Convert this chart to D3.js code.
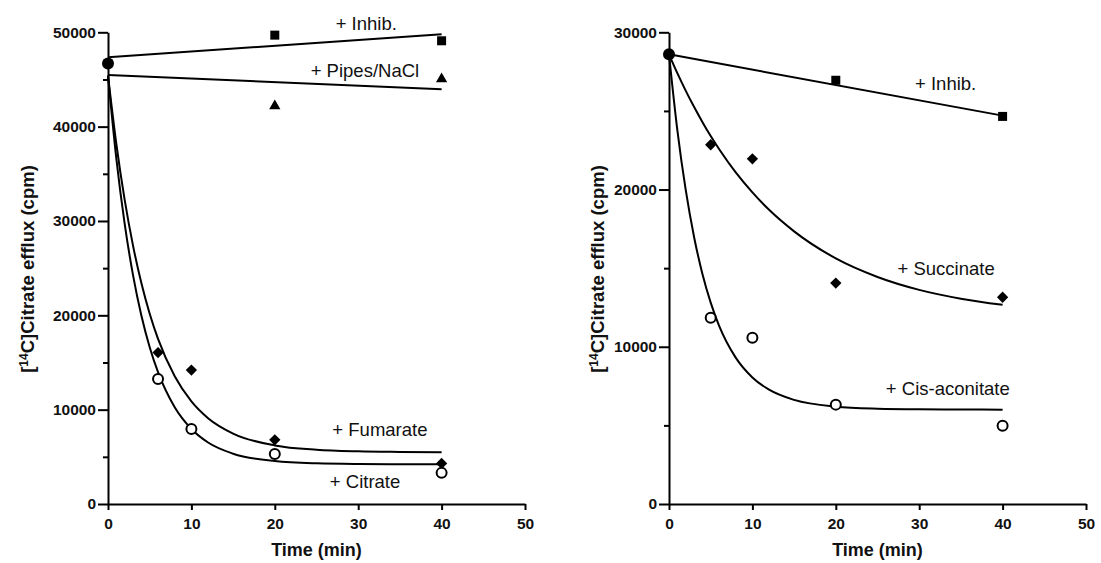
<!DOCTYPE html>
<html>
<head>
<meta charset="utf-8">
<script src="https://cdn.jsdelivr.net/npm/d3@7"></script>
<style>
  body { margin: 0; background: #fff; }
  svg { display: block; }
  text { font-family: "Liberation Sans", Arial, sans-serif; fill: #111; }
  .tick text { font-weight: bold; font-size: 15.5px; }
  .axis path, .axis line { stroke: #000; stroke-width: 2px; }
  .fit { fill: none; stroke: #000; stroke-width: 2px; }
  .note { font-size: 18.5px; }
  .atitle { font-weight: bold; font-size: 18px; }
</style>
</head>
<body>
<svg width="1101" height="563"></svg>
<script>
// time grid the fitted curves were read on
var fitT = [0, 1, 2, 3, 4, 5, 6, 8, 10, 12, 15, 20, 25, 30, 35, 40];

// ---- left panel ----
var leftControl = [46700];             // t = 0
var leftInhibT = [20, 40], leftInhibV = [49700, 49100];
var leftPipesT = [20, 40], leftPipesV = [42200, 45050];
var leftFumT = [6, 10, 20, 40], leftFumV = [16050, 14200, 6800, 4300];
var leftCitT = [6, 10, 20, 40], leftCitV = [13250, 7950, 5300, 3300];
var leftInhibFitT = [0, 40], leftInhibFitV = [47350, 49800];
var leftPipesFitT = [0, 40], leftPipesFitV = [45470, 43960];
var leftFumFit = [45400, 38160, 32240, 27390, 23420, 20170, 17500, 13540, 10880, 9100, 7470, 6210, 5750, 5580, 5520, 5490];
var leftCitFit = [45400, 36610, 29700, 24260, 19980, 16620, 13970, 10250, 7950, 6520, 5330, 4550, 4310, 4240, 4220, 4210];

// ---- right panel ----
var rightControl = [28600];
var rightInhibT = [20, 40], rightInhibV = [26950, 24650];
var rightSuccT = [5, 10, 20, 40], rightSuccV = [22850, 21950, 14050, 13150];
var rightCisT = [5, 10, 20, 40], rightCisV = [11850, 10580, 6320, 4980];
var rightInhibFitT = [0, 40], rightInhibFitV = [28600, 24700];
var rightSuccFit = [28600, 27400, 26290, 25260, 24300, 23400, 22580, 21090, 19820, 18710, 17340, 15620, 14440, 13620, 13060, 12670];
var rightCisFit = [28600, 23780, 19990, 17000, 14650, 12810, 11350, 9310, 8050, 7270, 6620, 6190, 6060, 6020, 6010, 6000];

// axis ticks
var xTicks = [0, 10, 20, 30, 40, 50];
var leftYTicks = [0, 10000, 20000, 30000, 40000, 50000];
var leftYMinor = [5000, 15000, 25000, 35000, 45000];
var rightYTicks = [0, 10000, 20000, 30000];
var rightYMinor = [5000, 15000, 25000];

// curve labels: text, t, value (baseline start)
var leftNotes = [["+ Inhib.", 27.3, 50250], ["+ Pipes/NaCl", 24.3, 45260], ["+ Fumarate", 26.9, 7210], ["+ Citrate", 26.6, 1700]];
var rightNotes = [["+ Inhib.", 29.5, 26340], ["+ Succinate", 27.4, 14570], ["+ Cis-aconitate", 26.0, 6930]];

var svg = d3.select("svg");

function zip(t, v) { return t.map(function (d, i) { return [d, v[i]]; }); }

function panel(opt) {
  var x = d3.scaleLinear().domain([0, 50]).range([opt.x0, opt.x0 + 417]);
  var y = d3.scaleLinear().domain([0, opt.ymax]).range([504, 32.3]);
  var g = svg.append("g");

  // minor y ticks
  g.append("g").attr("class", "axis")
    .attr("transform", "translate(" + opt.x0 + ",0)")
    .call(d3.axisLeft(y).tickValues(opt.minor).tickSize(5).tickFormat(""))
    .select(".domain").remove();
  g.append("g").attr("class", "axis")
    .attr("transform", "translate(" + opt.x0 + ",0)")
    .call(d3.axisLeft(y).tickValues(opt.yticks).tickSize(10).tickSizeOuter(0).tickPadding(2).tickFormat(d3.format("d")));
  g.append("g").attr("class", "axis")
    .attr("transform", "translate(0,504)")
    .call(d3.axisBottom(x).tickValues(xTicks).tickSize(6).tickSizeOuter(0).tickPadding(8));

  g.append("text").attr("class", "atitle")
    .attr("x", x(25)).attr("y", 556).attr("text-anchor", "middle").text("Time (min)");
  var yt = g.append("text").attr("class", "atitle")
    .attr("transform", "translate(" + opt.ytx + ",269) rotate(-90)")
    .attr("text-anchor", "middle").style("font-size", "18.5px");
  yt.append("tspan").text("[");
  yt.append("tspan").attr("dy", -6).style("font-size", "12px").text("14");
  yt.append("tspan").attr("dy", 6).text("C]Citrate efflux (cpm)");

  var line = d3.line().x(function (d) { return x(d[0]); }).y(function (d) { return y(d[1]); });
  var smooth = d3.line().curve(d3.curveMonotoneX).x(function (d) { return x(d[0]); }).y(function (d) { return y(d[1]); });
  opt.lines.forEach(function (l) { g.append("path").attr("class", "fit").attr("d", line(l)); });
  opt.curves.forEach(function (c) { g.append("path").attr("class", "fit").attr("d", smooth(c)); });

  opt.marks.forEach(function (m) {
    var sel = g.selectAll(null).data(m.pts).enter();
    if (m.shape === "open") {
      sel.append("circle").attr("cx", function (d) { return x(d[0]); }).attr("cy", function (d) { return y(d[1]); })
        .attr("r", 5).attr("fill", "#fff").attr("stroke", "#000").attr("stroke-width", 2);
    } else if (m.shape === "dot") {
      sel.append("circle").attr("cx", function (d) { return x(d[0]); }).attr("cy", function (d) { return y(d[1]); })
        .attr("r", 6).attr("fill", "#000");
    } else {
      var sym = d3.symbol().type(m.shape === "tri" ? d3.symbolTriangle : d3.symbolSquare)
        .size(m.shape === "tri" ? 55 : m.shape === "diamond" ? 64 : 81);
      sel.append("path").attr("d", sym).attr("fill", "#000")
        .attr("transform", function (d) {
          return "translate(" + x(d[0]) + "," + y(d[1]) + ")" + (m.shape === "diamond" ? " rotate(45)" : "");
        });
    }
  });

  opt.notes.forEach(function (n) {
    g.append("text").attr("class", "note").attr("x", x(n[1])).attr("y", y(n[2])).text(n[0]);
  });
}

panel({
  x0: 108, ymax: 50000, yticks: leftYTicks, minor: leftYMinor, ytx: 34,
  lines: [zip(leftInhibFitT, leftInhibFitV), zip(leftPipesFitT, leftPipesFitV)],
  curves: [zip(fitT, leftFumFit), zip(fitT, leftCitFit)],
  marks: [
    { shape: "square", pts: zip(leftInhibT, leftInhibV) },
    { shape: "tri", pts: zip(leftPipesT, leftPipesV) },
    { shape: "diamond", pts: zip(leftFumT, leftFumV) },
    { shape: "open", pts: zip(leftCitT, leftCitV) },
    { shape: "dot", pts: zip([0], leftControl) }
  ],
  notes: leftNotes
});

panel({
  x0: 669, ymax: 30000, yticks: rightYTicks, minor: rightYMinor, ytx: 604,
  lines: [zip(rightInhibFitT, rightInhibFitV)],
  curves: [zip(fitT, rightSuccFit), zip(fitT, rightCisFit)],
  marks: [
    { shape: "square", pts: zip(rightInhibT, rightInhibV) },
    { shape: "diamond", pts: zip(rightSuccT, rightSuccV) },
    { shape: "open", pts: zip(rightCisT, rightCisV) },
    { shape: "dot", pts: zip([0], rightControl) }
  ],
  notes: rightNotes
});
</script>
</body>
</html>
